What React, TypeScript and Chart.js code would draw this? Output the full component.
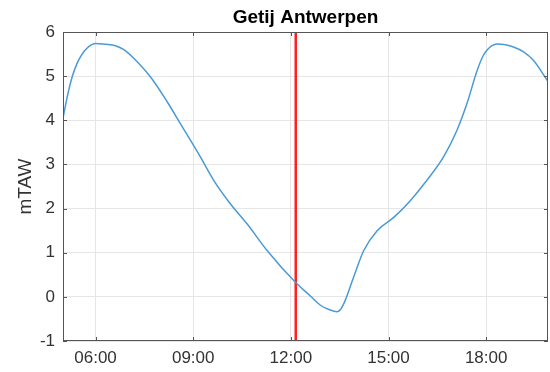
import React, { useEffect, useRef } from "react";
import { Chart, registerables } from "chart.js";

Chart.register(...registerables);

// Tide (hours of day) and water level (mTAW)
const times = [5.0, 5.15, 5.28, 5.41, 5.54, 5.67, 5.79, 5.9, 6.0, 6.3, 6.61, 6.87, 7.18, 7.69, 8.2, 8.61, 9.22, 9.63, 10.14, 10.66, 11.27, 12.14, 12.6, 12.91, 13.15, 13.42, 13.55, 13.67, 13.93, 14.24, 14.65, 15.16, 15.67, 16.18, 16.69, 17.1, 17.41, 17.72, 17.9, 18.03, 18.18, 18.33, 18.6, 18.84, 19.15, 19.45, 19.9];
const levels = [4.05, 4.6, 4.98, 5.25, 5.44, 5.58, 5.67, 5.72, 5.74, 5.72, 5.69, 5.6, 5.4, 4.98, 4.42, 3.92, 3.17, 2.64, 2.11, 1.65, 1.05, 0.33, 0.02, -0.19, -0.28, -0.34, -0.26, -0.08, 0.45, 1.05, 1.5, 1.8, 2.18, 2.64, 3.17, 3.77, 4.38, 5.12, 5.45, 5.59, 5.69, 5.73, 5.71, 5.66, 5.55, 5.36, 4.88];
const markerTime = 12.15;
const tickHours = [6, 9, 12, 15, 18];
const tickLabels = ["06:00", "09:00", "12:00", "15:00", "18:00"];
const yMin = -1;
const yMax = 6;
const xMin = 5.0;
const xMax = 19.9;
const titleText = "Getij Antwerpen";
const yTitle = "mTAW";

const FONT = "'Liberation Sans', Arial, Helvetica, sans-serif";

const boxPlugin = {
  id: "matlabBox",
  afterDraw(chart: any) {
    const { ctx, chartArea: a, scales } = chart;
    ctx.save();
    // title
    ctx.fillStyle = "#000";
    ctx.font = `bold 19px ${FONT}`;
    ctx.textAlign = "center";
    ctx.textBaseline = "middle";
    ctx.fillText(titleText, (a.left + a.right) / 2, 18);
    // box
    ctx.strokeStyle = "#555";
    ctx.lineWidth = 1;
    ctx.strokeRect(a.left + 0.5, a.top + 0.5, a.right - a.left - 1, a.bottom - a.top - 1);
    // inward ticks
    const tl = 4;
    ctx.beginPath();
    for (const h of tickHours) {
      const px = Math.round(scales.x.getPixelForValue(h)) + 0.5;
      ctx.moveTo(px, a.bottom);
      ctx.lineTo(px, a.bottom - tl);
      ctx.moveTo(px, a.top);
      ctx.lineTo(px, a.top + tl);
    }
    for (let v = yMin; v <= yMax; v++) {
      const py = Math.round(scales.y.getPixelForValue(v)) + 0.5;
      ctx.moveTo(a.left, py);
      ctx.lineTo(a.left + tl, py);
      ctx.moveTo(a.right, py);
      ctx.lineTo(a.right - tl, py);
    }
    ctx.stroke();
    ctx.restore();
  },
};

export default function App() {
  const ref = useRef<HTMLCanvasElement | null>(null);
  useEffect(() => {
    document.body.style.margin = "0";
    const canvas = ref.current;
    if (!canvas) return;
    const chart = new Chart(canvas, {
      type: "scatter",
      data: {
        datasets: [
          {
            data: times.map((t, i) => ({ x: t, y: levels[i] })),
            showLine: true,
            borderColor: "#4a9ad6",
            borderWidth: 1.5,
            pointRadius: 0,
            cubicInterpolationMode: "monotone",
          },
          {
            data: [
              { x: markerTime, y: yMin },
              { x: markerTime, y: yMax },
            ],
            showLine: true,
            borderColor: "#ff1f1f",
            borderWidth: 2.5,
            pointRadius: 0,
          },
        ],
      },
      options: {
        animation: false,
        responsive: true,
        maintainAspectRatio: false,
        layout: { padding: { top: 32, right: 2, left: 0, bottom: 0 } },
        plugins: { legend: { display: false }, tooltip: { enabled: false }, title: { display: false } },
        scales: {
          x: {
            type: "linear",
            min: xMin,
            max: xMax,
            afterBuildTicks: (s: any) => {
              s.ticks = tickHours.map((v) => ({ value: v }));
            },
            afterFit: (s: any) => {
              s.height = 31;
            },
            ticks: {
              autoSkip: false,
              maxRotation: 0,
              padding: 7,
              color: "#333",
              font: { family: FONT, size: 17 },
              callback: (v: any) => {
                const i = tickHours.indexOf(Number(v));
                return i >= 0 ? tickLabels[i] : "";
              },
            },
            grid: { color: "#e6e6e6", lineWidth: 1, drawTicks: false },
            border: { display: false },
          },
          y: {
            min: yMin,
            max: yMax,
            afterFit: (s: any) => {
              s.width = 63;
            },
            ticks: {
              stepSize: 1,
              padding: 8,
              color: "#333",
              font: { family: FONT, size: 17 },
            },
            grid: { color: "#e6e6e6", lineWidth: 1, drawTicks: false },
            border: { display: false },
            title: {
              display: true,
              text: yTitle,
              color: "#333",
              font: { family: FONT, size: 19 },
              padding: { top: 14, bottom: 0 },
            },
          },
        },
      },
      plugins: [boxPlugin],
    } as any);
    return () => chart.destroy();
  }, []);
  return (
    <div style={{ width: 550, height: 372, position: "relative" }}>
      <canvas ref={ref} />
    </div>
  );
}
